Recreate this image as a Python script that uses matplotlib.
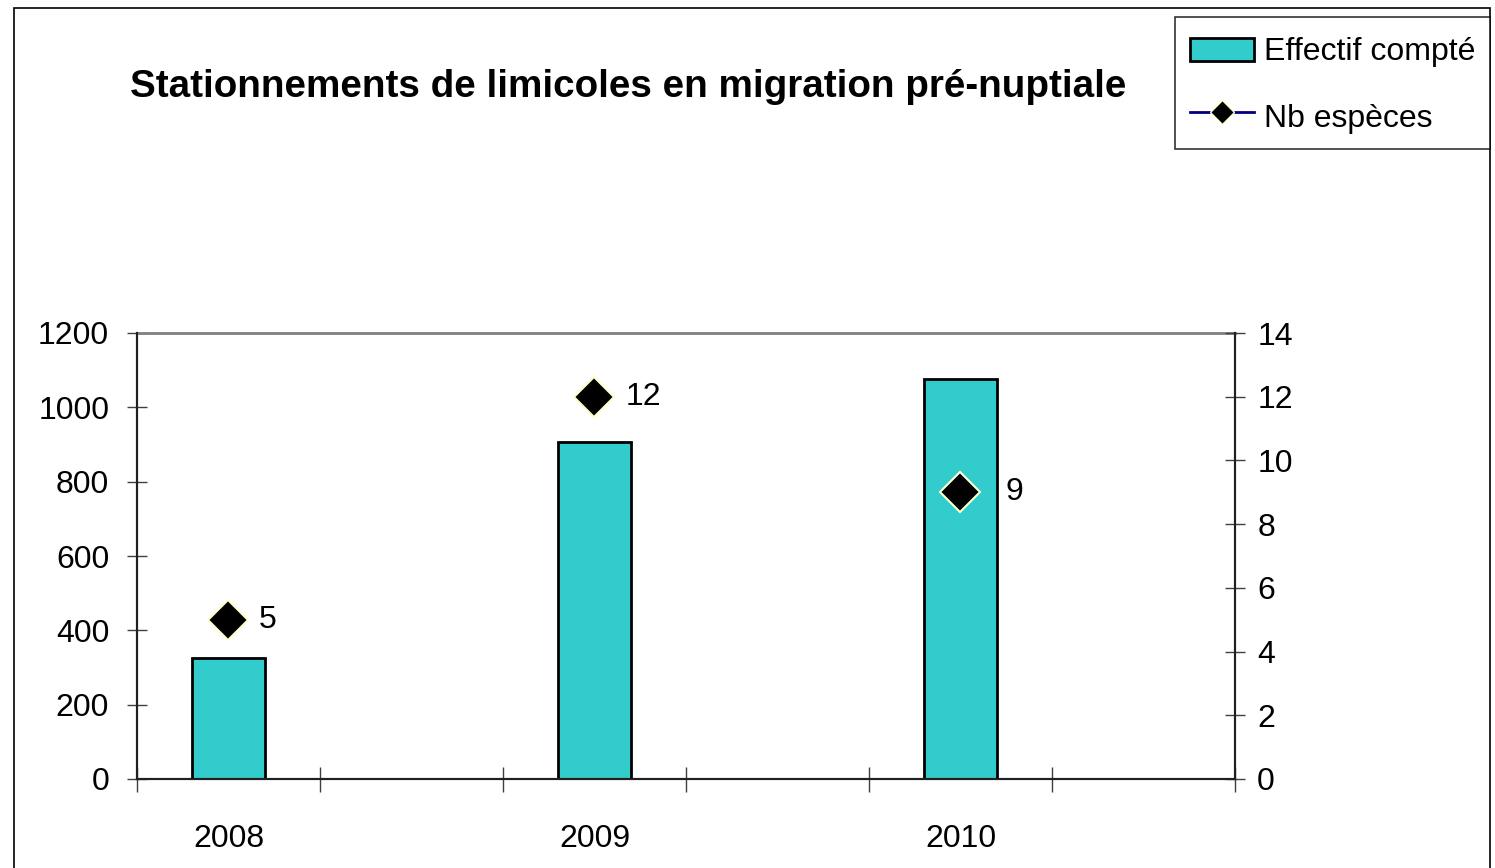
import matplotlib
matplotlib.use("Agg")
import matplotlib.pyplot as plt
from matplotlib.lines import Line2D
from matplotlib.patches import Patch, Rectangle
from matplotlib.legend_handler import HandlerPatch
from matplotlib import font_manager

names = {f.name for f in font_manager.fontManager.ttflist}
FONT = ['Liberation Sans Narrow', 'Liberation Sans', 'DejaVu Sans']
FONT = [f for f in FONT if f in names] or ['DejaVu Sans']
plt.rcParams['font.family'] = FONT

years = ['2008', '2009', '2010']
effectif = [326, 906, 1076]
nb_especes = [5, 12, 9]
label_offsets_px = [30, 31, 45]

DPI = 100
fig = plt.figure(figsize=(14.95, 8.68), dpi=DPI)
fig.patch.set_facecolor('white')

TICK_FS = 23

# outer border
fig.add_artist(Rectangle((14/1495, -0.05), (1490-14)/1495, 0.05 + 1 - 8/868,
                         transform=fig.transFigure, fill=False,
                         edgecolor='black', linewidth=1.2))

ax = fig.add_axes([137/1495, 1-779/868, (1235-137)/1495, (779-333)/868])
x = list(range(len(years)))
ax.bar(x, effectif, width=0.2, color='#33CCCC', edgecolor='black', linewidth=2, zorder=2)
ax.set_ylim(0, 1200)
ax.set_yticks(range(0, 1201, 200))
ax.set_xlim(-0.25, 2.75)
ax.set_xticks([-0.25, 0.25, 0.75, 1.25, 1.75, 2.25, 2.75])
ax.set_xticklabels([])
ax.tick_params(axis='x', direction='inout', length=18, width=1, color='#404040')
ax.tick_params(axis='y', direction='inout', length=14, width=1, color='#404040',
               labelsize=TICK_FS, pad=13)
for i, yr in enumerate(years):
    ax.text(i, -0.134, yr, transform=ax.get_xaxis_transform(), ha='center', va='center',
            fontsize=TICK_FS)

for s in ['left', 'bottom', 'right']:
    ax.spines[s].set_color('#202020')
    ax.spines[s].set_linewidth(1.5)
ax.spines['top'].set_color('#808080')
ax.spines['top'].set_linewidth(2)

ax2 = ax.twinx()
ax2.set_ylim(0, 14)
ax2.set_yticks(range(0, 15, 2))
ax2.tick_params(axis='y', direction='inout', length=14, width=1, color='#404040',
                labelsize=TICK_FS, pad=9)
ax2.plot(x, nb_especes, linestyle='none', marker='D', markersize=20,
         markerfacecolor='black', markeredgecolor='#FFFFCC', markeredgewidth=1.5,
         clip_on=False, zorder=3)
for xi, v, off in zip(x, nb_especes, label_offsets_px):
    ax2.annotate(str(v), (xi, v), xytext=(off, 0), textcoords='offset pixels',
                 ha='left', va='center', fontsize=TICK_FS)
for s in ['left', 'bottom', 'right']:
    ax2.spines[s].set_color('#202020')
    ax2.spines[s].set_linewidth(1.5)
ax2.spines['top'].set_visible(False)

fig.text(628/1495, 1-87/868, 'Stationnements de limicoles en migration pré-nuptiale',
         ha='center', va='center', fontsize=27.8, fontweight='bold')


def flat_rect(legend, orig_handle, xdescent, ydescent, width, height, fontsize):
    h = 0.72 * fontsize
    return Rectangle((-xdescent, -ydescent + (height - h) / 2), width, h)


handles = [Patch(facecolor='#33CCCC', edgecolor='black', linewidth=2),
           Line2D([0], [0], color='#000080', linewidth=2, marker='D', markersize=12,
                  markerfacecolor='black', markeredgecolor='#FFFFCC')]
leg = fig.legend(handles, ['Effectif compté', 'Nb espèces'],
                 loc='upper right', bbox_to_anchor=(1490/1495, 1-17/868),
                 fontsize=23, frameon=True, fancybox=False, edgecolor='black',
                 handlelength=2.0, handleheight=1.3, handletextpad=0.3,
                 borderpad=0.47, labelspacing=0.98, borderaxespad=0,
                 handler_map={Patch: HandlerPatch(patch_func=flat_rect)})
leg.get_frame().set_linewidth(1.2)

fig.savefig('out.png', dpi=DPI)
